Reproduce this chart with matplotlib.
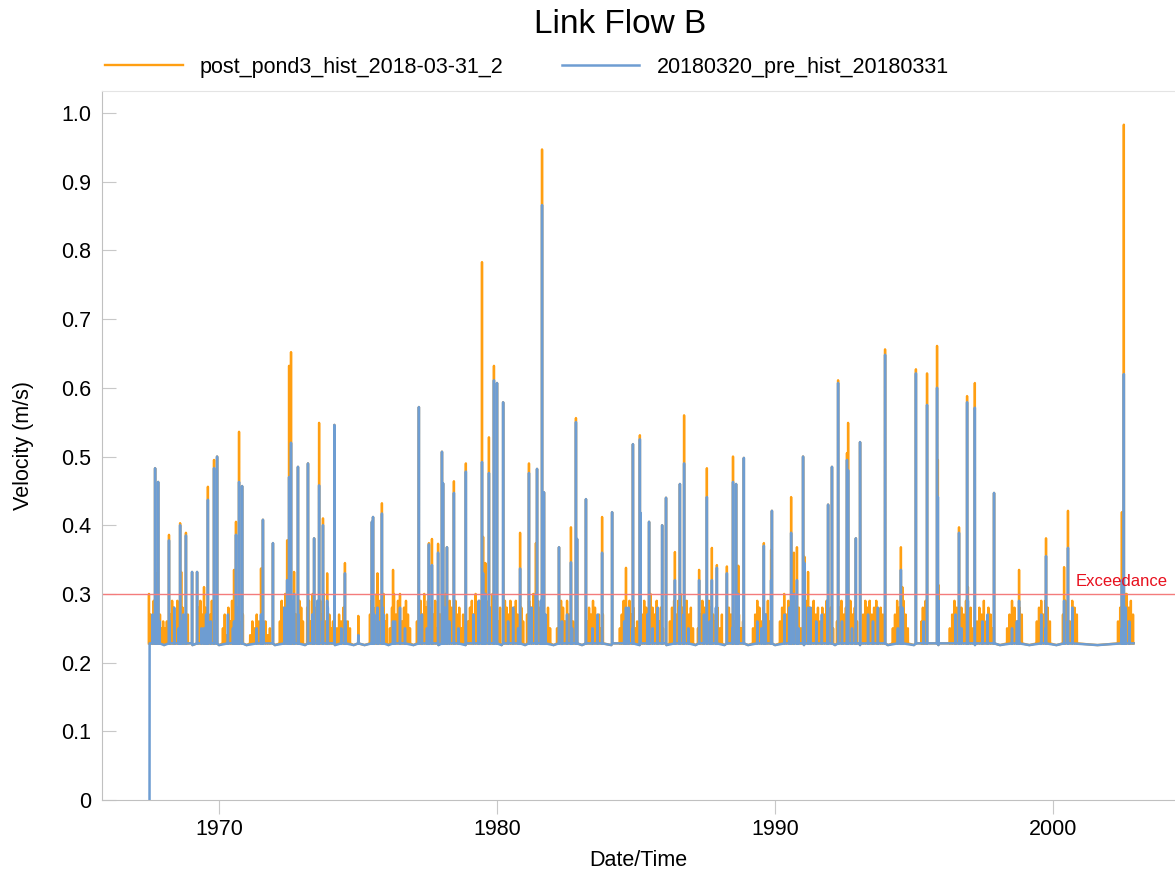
import numpy as np
import matplotlib.pyplot as plt

plt.rcParams['font.family'] = ['Liberation Sans', 'DejaVu Sans']

title = 'Link Flow B'
name_post = 'post_pond3_hist_2018-03-31_2'
name_pre = '20180320_pre_hist_20180331'
exceedance = 0.3
base_wet = 0.228
base_dry = 0.2255
t_first = 1967.50
t_last = 2002.90

# wet season clusters (decimal years) and the low orange flows inside them
season_start = [1967.48, 1968.06, 1969.21, 1970.14, 1971.12, 1972.19, 1973.17, 1974.24, 1974.98,
                1975.43, 1976.15, 1977.12, 1977.95, 1978.96, 1980.22, 1981.08, 1982.16, 1983.24,
                1984.42, 1985.22, 1986.22, 1987.23, 1988.27, 1989.21, 1990.18, 1991.08, 1992.23,
                1993.17, 1994.24, 1995.22, 1996.29, 1997.27, 1998.35, 1999.42, 2000.36, 2002.34]
season_end = [1967.99, 1968.88, 1969.86, 1970.86, 1971.83, 1973.02, 1974.10, 1974.71, 1975.04,
              1976.04, 1976.87, 1977.84, 1978.78, 1980.11, 1980.94, 1981.91, 1982.88, 1983.81,
              1985.04, 1985.97, 1987.05, 1988.09, 1988.85, 1989.82, 1991.01, 1992.09, 1992.95,
              1993.88, 1994.78, 1995.47, 1997.12, 1997.84, 1998.88, 1999.89, 2000.86, 2002.88]
season_post = [
    [0.30, 0.27, 0.25, 0.29, 0.26, 0.28, 0.24, 0.27, 0.25, 0.26],
    [0.25, 0.26, 0.24, 0.27, 0.29, 0.28, 0.26, 0.29, 0.27, 0.25, 0.28, 0.26, 0.24, 0.27],
    [0.26, 0.28, 0.29, 0.27, 0.25, 0.28, 0.26, 0.24, 0.27, 0.29, 0.25, 0.26],
    [0.25, 0.27, 0.24, 0.28, 0.26, 0.29, 0.25, 0.27, 0.28, 0.26, 0.24, 0.27],
    [0.24, 0.26, 0.25, 0.27, 0.26, 0.28, 0.25, 0.26, 0.24, 0.25],
    [0.26, 0.29, 0.28, 0.30, 0.27, 0.29, 0.26, 0.28, 0.30, 0.27, 0.25, 0.29, 0.28, 0.26],
    [0.28, 0.29, 0.26, 0.30, 0.27, 0.28, 0.25, 0.29, 0.27, 0.30, 0.26, 0.28, 0.27, 0.25, 0.26],
    [0.25, 0.27, 0.26, 0.28, 0.24, 0.26, 0.25],
    [0.268],
    [0.27, 0.29, 0.28, 0.26, 0.30, 0.27, 0.29, 0.25, 0.28, 0.26, 0.27],
    [0.25, 0.28, 0.30, 0.27, 0.29, 0.30, 0.26, 0.28, 0.29, 0.27, 0.25],
    [0.26, 0.28, 0.29, 0.27, 0.30, 0.28, 0.29, 0.26, 0.28, 0.27, 0.29, 0.25],
    [0.27, 0.29, 0.28, 0.30, 0.27, 0.29, 0.28, 0.26, 0.29, 0.27, 0.28, 0.25, 0.27],
    [0.26, 0.28, 0.29, 0.27, 0.30, 0.28, 0.29, 0.26, 0.30, 0.28, 0.27, 0.29, 0.28, 0.30, 0.27, 0.29, 0.26, 0.28],
    [0.26, 0.29, 0.28, 0.27, 0.29, 0.26, 0.28, 0.29, 0.27, 0.25, 0.28, 0.26],
    [0.27, 0.29, 0.28, 0.30, 0.26, 0.29, 0.28, 0.27, 0.29, 0.26, 0.28, 0.25],
    [0.25, 0.27, 0.29, 0.28, 0.26, 0.29, 0.27, 0.28, 0.26, 0.25, 0.27],
    [0.26, 0.28, 0.27, 0.29, 0.28, 0.26, 0.27, 0.25, 0.27],
    [0.25, 0.27, 0.29, 0.28, 0.26, 0.29, 0.27, 0.28, 0.25, 0.26],
    [0.27, 0.29, 0.28, 0.26, 0.30, 0.28, 0.27, 0.29, 0.26, 0.28, 0.25],
    [0.26, 0.28, 0.29, 0.27, 0.29, 0.30, 0.28, 0.26, 0.29, 0.27, 0.28, 0.25],
    [0.25, 0.27, 0.29, 0.28, 0.26, 0.29, 0.28, 0.27, 0.26, 0.28, 0.25, 0.27],
    [0.26, 0.28, 0.27, 0.29, 0.26, 0.28, 0.27, 0.25, 0.26],
    [0.25, 0.27, 0.29, 0.28, 0.26, 0.28, 0.27, 0.29, 0.26],
    [0.26, 0.28, 0.30, 0.27, 0.29, 0.28, 0.26, 0.29, 0.27, 0.28, 0.25, 0.27],
    [0.27, 0.29, 0.28, 0.26, 0.29, 0.27, 0.28, 0.26, 0.28, 0.27, 0.29, 0.26, 0.28, 0.25],
    [0.26, 0.28, 0.29, 0.27, 0.28, 0.26, 0.29, 0.27, 0.28, 0.26],
    [0.27, 0.29, 0.28, 0.29, 0.27, 0.28, 0.29, 0.26, 0.28, 0.27],
    [0.25, 0.27, 0.29, 0.28, 0.26, 0.29, 0.27, 0.25],
    [0.26, 0.28, 0.27, 0.29],
    [0.25, 0.27, 0.29, 0.28, 0.26, 0.28, 0.27, 0.29, 0.26, 0.28, 0.25],
    [0.26, 0.28, 0.27, 0.29, 0.26, 0.28, 0.27, 0.25],
    [0.25, 0.27, 0.29, 0.28, 0.26, 0.28, 0.27],
    [0.26, 0.28, 0.29, 0.27, 0.29, 0.28, 0.26],
    [0.27, 0.29, 0.28, 0.26, 0.29, 0.28, 0.27],
    [0.26, 0.28, 0.27, 0.29, 0.30, 0.28, 0.29, 0.27],
]
# small pre-development rises inside each wet season
season_pre = [
    [0.27, 0.25, 0.26], [0.26, 0.28, 0.25, 0.27], [0.25, 0.27, 0.26], [0.27, 0.25, 0.28],
    [0.25, 0.26], [0.28, 0.26, 0.29, 0.27], [0.27, 0.29, 0.26, 0.28], [0.25, 0.26], [0.24],
    [0.27, 0.26, 0.28], [0.26, 0.28, 0.25], [0.27, 0.25, 0.28], [0.28, 0.26, 0.27, 0.25],
    [0.27, 0.29, 0.26, 0.28, 0.27], [0.26, 0.28, 0.25], [0.28, 0.26, 0.29, 0.27], [0.26, 0.27, 0.25],
    [0.25, 0.27], [0.26, 0.28, 0.25], [0.27, 0.25, 0.28], [0.26, 0.28, 0.27, 0.25],
    [0.27, 0.26, 0.28], [0.25, 0.27], [0.26, 0.25, 0.27], [0.27, 0.28, 0.26, 0.25],
    [0.28, 0.26, 0.27, 0.29], [0.26, 0.28, 0.25], [0.27, 0.26, 0.28], [0.25, 0.27], [0.26],
    [0.27, 0.25, 0.26], [0.26, 0.27], [0.25, 0.26], [0.27, 0.25], [0.26, 0.28], [0.25, 0.27, 0.26],
]

# storm peaks: time, post-development and pre-development velocity
spike_t = [1967.70, 1967.73, 1967.81, 1968.20, 1968.60, 1968.64, 1968.81, 1969.03, 1969.21, 1969.46,
           1969.60, 1969.82, 1969.93, 1970.54, 1970.61, 1970.72, 1970.83, 1971.51, 1971.58, 1971.94,
           1972.45, 1972.52, 1972.59, 1972.70, 1972.84, 1973.20, 1973.42, 1973.60, 1973.74, 1973.89,
           1974.15, 1974.53, 1975.50, 1975.54, 1975.70, 1975.86, 1975.92, 1976.26, 1977.19, 1977.55,
           1977.66, 1977.88, 1978.02, 1978.06, 1978.20, 1978.45, 1978.88, 1979.46, 1979.50, 1979.58,
           1979.71, 1979.89, 1980.00, 1980.22, 1980.83, 1981.15, 1981.40, 1981.44, 1981.62, 1981.69,
           1982.23, 1982.66, 1982.84, 1982.88, 1983.20, 1983.78, 1984.14, 1984.64, 1984.89, 1985.14,
           1985.16, 1985.47, 1985.94, 1986.08, 1986.40, 1986.58, 1986.73, 1987.27, 1987.55, 1987.73,
           1987.91, 1988.27, 1988.49, 1988.60, 1988.68, 1988.88, 1989.60, 1989.86, 1989.89, 1990.58,
           1990.68, 1990.79, 1991.01, 1991.06, 1991.19, 1991.91, 1992.05, 1992.27, 1992.59, 1992.63,
           1992.91, 1993.06, 1993.96, 1994.53, 1994.58, 1995.07, 1995.47, 1995.83, 1995.86, 1995.88,
           1996.62, 1996.91, 1996.94, 1997.19, 1997.88, 1998.78, 1999.75, 2000.40, 2000.54, 2002.48,
           2002.55, 2002.62]
spike_post = [0.483, 0.330, 0.463, 0.386, 0.403, 0.332, 0.389, 0.332, 0.332, 0.310,
              0.456, 0.495, 0.500, 0.335, 0.405, 0.536, 0.457, 0.337, 0.408, 0.374,
              0.378, 0.632, 0.652, 0.332, 0.485, 0.490, 0.381, 0.549, 0.410, 0.330,
              0.546, 0.345, 0.405, 0.412, 0.330, 0.432, 0.300, 0.335, 0.572, 0.374,
              0.380, 0.373, 0.507, 0.461, 0.368, 0.464, 0.490, 0.783, 0.383, 0.345,
              0.528, 0.632, 0.607, 0.579, 0.389, 0.490, 0.374, 0.482, 0.947, 0.448,
              0.368, 0.397, 0.556, 0.380, 0.438, 0.412, 0.419, 0.338, 0.518, 0.531,
              0.418, 0.405, 0.400, 0.440, 0.361, 0.460, 0.560, 0.335, 0.483, 0.367,
              0.342, 0.340, 0.500, 0.460, 0.341, 0.498, 0.374, 0.364, 0.421, 0.441,
              0.360, 0.368, 0.500, 0.354, 0.332, 0.430, 0.485, 0.611, 0.505, 0.549,
              0.381, 0.521, 0.656, 0.368, 0.310, 0.627, 0.621, 0.661, 0.495, 0.313,
              0.397, 0.588, 0.310, 0.607, 0.447, 0.335, 0.381, 0.339, 0.421, 0.419,
              0.983, 0.300]
spike_pre = [0.483, 0.290, 0.463, 0.378, 0.400, 0.260, 0.385, 0.332, 0.332, 0.250,
             0.437, 0.483, 0.500, 0.260, 0.386, 0.463, 0.457, 0.270, 0.408, 0.374,
             0.320, 0.470, 0.520, 0.300, 0.485, 0.490, 0.381, 0.458, 0.400, 0.290,
             0.546, 0.330, 0.405, 0.412, 0.280, 0.417, 0.270, 0.260, 0.572, 0.372,
             0.342, 0.360, 0.507, 0.461, 0.368, 0.447, 0.478, 0.492, 0.330, 0.300,
             0.476, 0.611, 0.607, 0.579, 0.337, 0.476, 0.300, 0.482, 0.866, 0.448,
             0.368, 0.346, 0.550, 0.380, 0.438, 0.360, 0.419, 0.280, 0.518, 0.525,
             0.418, 0.405, 0.400, 0.440, 0.320, 0.460, 0.490, 0.320, 0.441, 0.320,
             0.338, 0.330, 0.463, 0.460, 0.300, 0.498, 0.370, 0.320, 0.421, 0.389,
             0.300, 0.320, 0.500, 0.345, 0.280, 0.430, 0.485, 0.607, 0.495, 0.480,
             0.381, 0.521, 0.648, 0.335, 0.280, 0.621, 0.575, 0.600, 0.441, 0.290,
             0.389, 0.579, 0.290, 0.571, 0.447, 0.290, 0.355, 0.290, 0.367, 0.320,
             0.620, 0.280]

half = 0.005  # half width of a peak in years


def build(start_v, peak_t, peak_v, seasons):
    pts = [(t_first, start_v), (t_first + 0.003, base_wet), (t_last, base_wet)]
    for a, b in zip(season_end[:-1], season_start[1:]):
        pts.append(((a + b) / 2, base_dry))
    ts, vs = list(peak_t), list(peak_v)
    for s0, s1, vals in zip(season_start, season_end, seasons):
        if len(vals) < 6:
            ts += list(np.linspace(s0, s1, len(vals) + 2)[1:-1])
        else:
            ts += list(np.linspace(s0, s1, len(vals)))
        vs += vals
    for t, v in zip(ts, vs):
        pts += [(t - half, base_wet), (t, v), (t + half, base_wet)]
    pts.sort()
    return [p[0] for p in pts], [p[1] for p in pts]


post_t, post_v = build(base_wet, spike_t, spike_post, season_post)
pre_t, pre_v = build(0.0, spike_t, spike_pre, season_pre)

fig = plt.figure(figsize=(11.75, 8.71), dpi=100)
ax = fig.add_axes([0.0868, 0.0815, 0.9132, 0.814])

ax.plot(post_t, post_v, color='#FF9F12', lw=1.7, label=name_post)
ax.plot(pre_t, pre_v, color='#6E9DD2', lw=1.8, label=name_pre)
ax.axhline(exceedance, color='#F47C7C', lw=1.0)
ax.text(0.993, exceedance + 0.007, 'Exceedance', transform=ax.get_yaxis_transform(),
        ha='right', va='bottom', color='#E8101E', fontsize=12)

ax.set_xlim(1965.79, 2004.39)
ax.set_ylim(0, 1.032)
ax.set_xticks([1970, 1980, 1990, 2000])
ax.set_yticks(np.arange(0, 1.01, 0.1))
ax.set_yticklabels(['0' if v == 0 else f'{v:.1f}' for v in np.arange(0, 1.01, 0.1)])
ax.tick_params(axis='y', direction='in', length=10, color='#C8C8C8', labelsize=15.5, pad=8)
ax.tick_params(axis='x', direction='out', length=10, color='#C8C8C8', labelsize=15.5, pad=4)
for side in ['left', 'bottom']:
    ax.spines[side].set_color('#C0C0C0')
ax.spines['top'].set_color('#E4E4E4')
ax.spines['right'].set_visible(False)

ax.set_xlabel('Date/Time', fontsize=15.5, labelpad=7)
ax.set_ylabel('Velocity (m/s)', fontsize=15.5, labelpad=19)
fig.text(0.528, 0.972, title, ha='center', va='center', fontsize=24)
fig.legend(loc='center left', bbox_to_anchor=(0.0895, 0.923), ncol=2, frameon=False,
           fontsize=15.5, handlelength=3.6, handletextpad=0.8, columnspacing=2.7,
           borderpad=0, borderaxespad=0)

fig.savefig('out.png', dpi=100)
